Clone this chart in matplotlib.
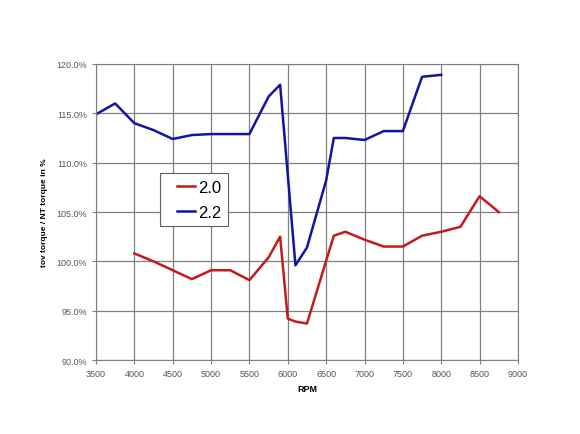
import matplotlib
matplotlib.use("Agg")
import matplotlib.pyplot as plt
from matplotlib.ticker import FuncFormatter
from matplotlib.legend_handler import HandlerLine2D

# ratio data
rpm_20 = [4000, 4250, 4500, 4750, 5000, 5250, 5500, 5750, 5900, 6000, 6100, 6250,
          6600, 6750, 7000, 7250, 7500, 7750, 8000, 8250, 8500, 8750]
ratio_20 = [100.8, 100.0, 99.1, 98.2, 99.1, 99.1, 98.1, 100.4, 102.5, 94.2, 93.9, 93.7,
            102.6, 103.0, 102.2, 101.5, 101.5, 102.6, 103.0, 103.5, 106.6, 105.0]

rpm_22 = [3500, 3750, 4000, 4250, 4500, 4750, 5000, 5250, 5500, 5750, 5900, 6100,
          6250, 6500, 6600, 6750, 7000, 7250, 7500, 7750, 8000]
ratio_22 = [114.9, 116.0, 114.0, 113.3, 112.4, 112.8, 112.9, 112.9, 112.9, 116.7, 117.9, 99.6,
            101.4, 108.2, 112.5, 112.5, 112.3, 113.2, 113.2, 118.7, 118.9]

plt.rcParams['font.family'] = ['Liberation Sans', 'DejaVu Sans']

fig = plt.figure(figsize=(5.8, 4.35), dpi=100)
ax = fig.add_axes([0.1655, 0.170, 0.7275, 0.6806])

ax.plot(rpm_20, ratio_20, color="#c41a1d", lw=1.8, label="2.0")
ax.plot(rpm_22, ratio_22, color="#1414a4", lw=1.8, label="2.2")

ax.set_xlim(3500, 9000)
ax.set_ylim(90, 120)
ax.set_xticks(range(3500, 9001, 500))
ax.set_yticks(range(90, 121, 5))
ax.yaxis.set_major_formatter(FuncFormatter(lambda v, p: f"{v:.1f}%"))
ax.grid(color="#808080", lw=0.9)
for s in ax.spines.values():
    s.set_color("#808080")
ax.tick_params(labelsize=6.5, labelcolor="#555555", color="#808080", length=3, direction="out")

ax.set_xlabel("RPM", fontsize=6.5, fontweight="bold", labelpad=4)
ax.set_ylabel("tov torque / NT torque in %", fontsize=6, fontweight="bold", labelpad=6)

# short line handle with blank room on its left, like the Excel legend
hmap = {line: HandlerLine2D(xpad=0.6) for line in ax.get_lines()}
leg = ax.legend(loc="upper left", bbox_to_anchor=(0.152, 0.632), borderaxespad=0,
                fontsize=12, handlelength=1.7, handletextpad=0.2, fancybox=False,
                framealpha=1, borderpad=0.4, labelspacing=0.6, handler_map=hmap)
leg.get_frame().set_edgecolor("#606060")
leg.get_frame().set_linewidth(0.8)

fig.savefig("out.png", dpi=100)
